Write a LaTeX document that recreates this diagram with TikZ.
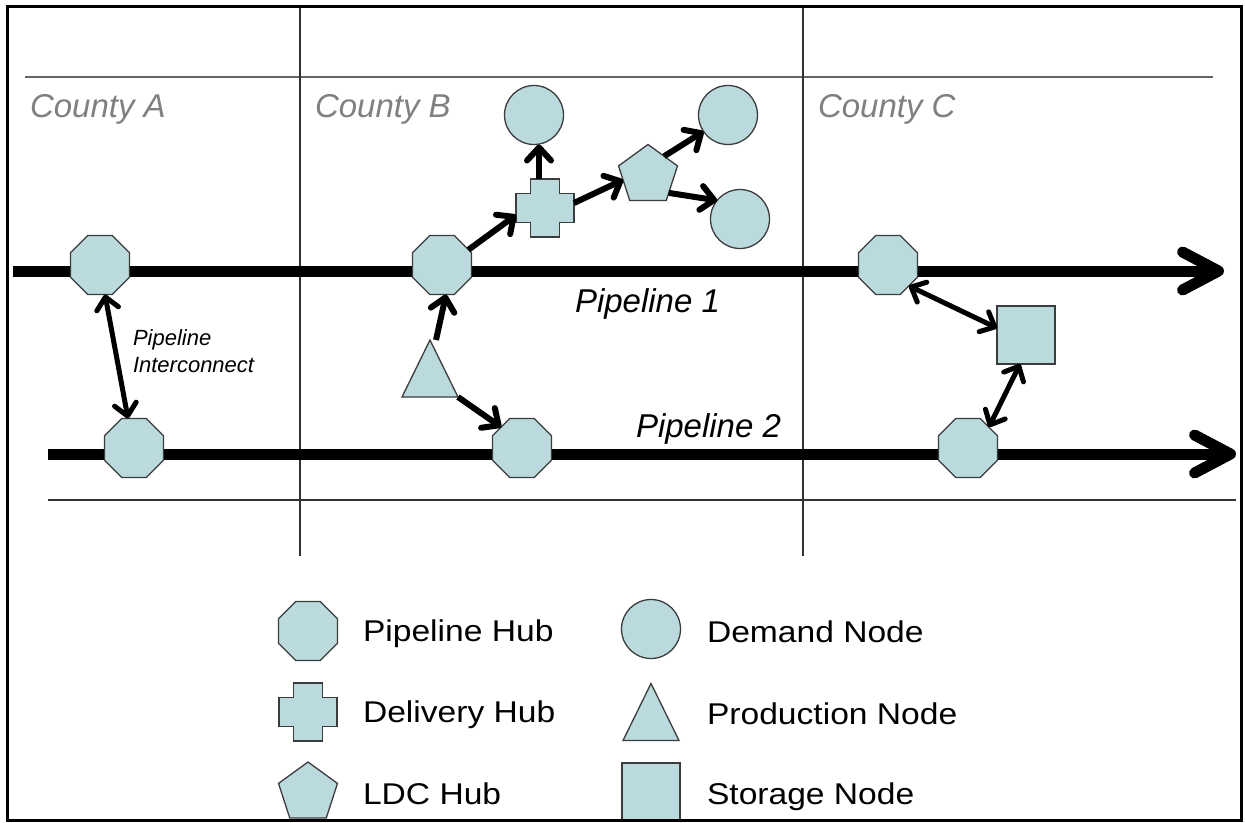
\documentclass[tikz,border=0pt]{standalone}
\usepackage{fontspec}
\setmainfont{Liberation Sans}
\newfontfamily\legendfont[FakeStretch=1.12]{Liberation Sans}
\usetikzlibrary{shapes.geometric,arrows.meta}
\definecolor{shapefill}{RGB}{187,218,222}
\definecolor{shapeline}{RGB}{60,60,60}
\definecolor{countygray}{RGB}{128,128,128}
\definecolor{gridline}{RGB}{50,50,50}
\tikzset{
  shp/.style={fill=shapefill, draw=shapeline, line width=1.3pt},
  pics/plusshape/.style={code={
    \draw[shp] (-14.5,-29) -- (14.5,-29) -- (14.5,-14.5) -- (29,-14.5) -- (29,14.5) -- (14.5,14.5) -- (14.5,29) -- (-14.5,29) -- (-14.5,14.5) -- (-29,14.5) -- (-29,-14.5) -- (-14.5,-14.5) -- cycle;
  }},
  pics/trishape/.style={code={
    \draw[shp] (0,-28.5) -- (28,28.5) -- (-28,28.5) -- cycle;
  }},
}
\begin{document}
\begin{tikzpicture}[x=1pt,y=-1pt,
  every node/.style={inner sep=0pt, outer sep=0pt},
  hub/.style={shp, regular polygon, regular polygon sides=8, minimum size=64pt},
  ldc/.style={shp, regular polygon, regular polygon sides=5, minimum size=62pt},
  demand/.style={shp, circle, minimum size=59pt},
  storage/.style={shp, rectangle, minimum size=58pt},
  anchorbox/.style={rectangle, minimum width=58pt, minimum height=58pt},
  grid/.style={draw=gridline, line width=1.3pt},
  pipe/.style={line width=11pt, -{Straight Barb[length=36pt,width=38pt,line cap=round,line join=round]}},
  flow/.style={line width=6pt, -{Straight Barb[length=13pt,width=24pt,line cap=round,line join=round]}},
  flowtwo/.style={line width=5pt, {Straight Barb[length=12pt,width=22pt,line cap=round,line join=round]}-{Straight Barb[length=12pt,width=22pt,line cap=round,line join=round]}},
  county/.style={anchor=base west, text=countygray, font=\fontsize{33}{33}\selectfont\itshape},
  pipelabel/.style={anchor=base west, font=\fontsize{33}{33}\selectfont\itshape},
  smalllabel/.style={anchor=base west, align=left, font=\fontsize{22}{27}\selectfont\itshape},
  legendtext/.style={anchor=base west, font=\legendfont\fontsize{30}{30}\selectfont},
]
\useasboundingbox (0,0) rectangle (1245,822);
\fill[white] (0,0) rectangle (1245,822);

% grid
\draw[grid, line width=2pt, draw=gridline!75] (25,77) -- (1213,77);
\draw[grid] (48,500) -- (1236,500);
\draw[grid] (300,7) -- (300,556);
\draw[grid] (803,7) -- (803,556);

% county labels
\node[county] (cA) at (30,117) {County A};
\node[county] (cB) at (315,117) {County B};
\node[county] (cC) at (818,117) {County C};

% pipelines
\coordinate (p1s) at (13,271);
\coordinate (p1e) at (1224,271);
\coordinate (p2s) at (48,454);
\coordinate (p2e) at (1236,454);
\draw[pipe] (p1s) -- (p1e);
\draw[pipe] (p2s) -- (p2e);

\node[pipelabel] (pl1) at (575,312) {Pipeline 1};
\node[pipelabel] (pl2) at (636,437) {Pipeline 2};
\node[smalllabel] (pic) at (133,372) {Pipeline\\Interconnect};

% shapes
\node[hub] (A1) at (100,265) {};
\node[hub] (B1) at (442,265) {};
\node[hub] (C1) at (888,265) {};
\node[hub] (A2) at (134,448) {};
\node[hub] (B2) at (522,448) {};
\node[hub] (C2) at (968,448) {};

\pic at (430,368.5) {trishape};
\node[anchorbox, minimum width=56pt, minimum height=57pt] (P) at (430,368.5) {};

\pic at (545,208) {plusshape};
\node[anchorbox] (X) at (545,208) {};

\node[ldc] (L) at (648,175.5) {};
\node[demand] (D1) at (534,115) {};
\node[demand] (D2) at (728,115) {};
\node[demand] (D3) at (740,219) {};
\node[storage] (S) at (1026,335) {};

% connectors
\draw[flowtwo] ([xshift=5pt]A1.south) -- ([xshift=-6pt]A2.north);
\draw[flow] ([xshift=6pt]P.north) -- ([xshift=4pt]B1.south);
\draw[flow] (P.south east) -- (B2.135);
\draw[flow] (B1.30) -- ([yshift=-7pt]X.west);
\draw[flow] ([xshift=-6pt]X.north) -- ([xshift=-6pt]X.north |- D1.south);
\draw[flow] ([yshift=5pt]X.east) -- (L.190);
\draw[flow] (L.50) -- (D2.214);
\draw[flow] (L.-40) -- (D3.141);
\draw[flowtwo] (C1.-45) -- ([yshift=7pt]S.west);
\draw[flowtwo] ([xshift=-6pt]S.south) -- (C2.45);

% legend
\node[hub] (lgA) at (308,631) {};
\node[legendtext] (tA) at (363,641) {Pipeline Hub};
\pic at (308,712) {plusshape};
\node[anchorbox] (lgB) at (308,712) {};
\node[legendtext] (tB) at (363,722) {Delivery Hub};
\node[ldc] (lgC) at (308,793) {};
\node[legendtext] (tC) at (363,804) {LDC Hub};

\node[demand] (lgD) at (651,629) {};
\node[legendtext] (tD) at (707,642) {Demand Node};
\pic at (651,712) {trishape};
\node[anchorbox] (lgE) at (651,712) {};
\node[legendtext] (tE) at (707,724) {Production Node};
\node[storage] (lgF) at (651,792) {};
\node[legendtext] (tF) at (707,804) {Storage Node};

% frame
\draw[line width=3pt] (7,6) rectangle (1241,820);
\end{tikzpicture}
\end{document}
